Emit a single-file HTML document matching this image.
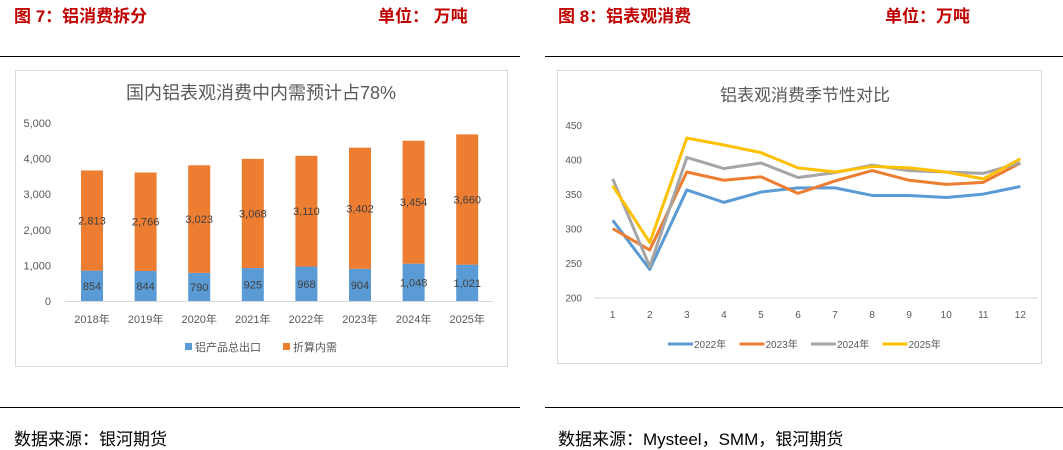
<!DOCTYPE html>
<html><head><meta charset="utf-8">
<style>
body{margin:0;width:1063px;height:448px;background:#fff;position:relative;overflow:hidden;font-family:"Liberation Sans","Noto Sans CJK SC",sans-serif}
.hd{position:absolute;top:2px;font-size:17px;font-weight:bold;color:#c00000}
.rule{position:absolute;height:1px;background:#000}
.src{position:absolute;top:425px;font-size:17px;color:#000}
svg{position:absolute;left:0;top:0}
</style></head><body>
<div class="hd" style="left:14px">图 7：铝消费拆分</div>
<div class="hd" style="left:378px">单位：&nbsp;万吨</div>
<div class="hd" style="left:558px">图 8：铝表观消费</div>
<div class="hd" style="left:885px">单位：万吨</div>
<div class="rule" style="left:0;width:520px;top:56px"></div>
<div class="rule" style="left:545px;width:518px;top:56px"></div>
<div class="rule" style="left:0;width:520px;top:407px"></div>
<div class="rule" style="left:545px;width:518px;top:407px"></div>
<div class="src" style="left:14px">数据来源：银河期货</div>
<div class="src" style="left:558px">数据来源：Mysteel，SMM，银河期货</div>
<svg id="svg" width="1063" height="448"></svg>
<script>
const years=["2018年","2019年","2020年","2021年","2022年","2023年","2024年","2025年"];
const exportVals=[854,844,790,925,968,904,1048,1021];
const domesticVals=[2813,2766,3023,3068,3110,3402,3454,3660];
const leftTicks=[0,1000,2000,3000,4000,5000];
const months=[1,2,3,4,5,6,7,8,9,10,11,12];
const s2022=[312,241,356,338,353,359,359,348,348,345,350,361];
const s2023=[300,269,382,370,375,351,369,384,370,364,367,395];
const s2024=[372,245,403,387,395,374,381,392,384,382,380,395];
const s2025=[362,280,431,421,410,388,382,390,388,382,372,401];
const rightTicks=[200,250,300,350,400,450];
const seriesNames=["2022年","2023年","2024年","2025年"];
const seriesColors=["#5b9bd5","#ed7d31","#a5a5a5","#ffc000"];
const NS="http://www.w3.org/2000/svg";
const svg=document.getElementById('svg');
function mk(t,a,txt){const e=document.createElementNS(NS,t);for(const k in a)e.setAttribute(k,a[k]);if(txt!=null)e.textContent=txt;svg.appendChild(e);return e;}
const fmt=v=>v.toLocaleString('en-US');
// left panel
let e=mk('rect',{x:15.5,y:70.5,width:492,height:296,fill:'#fff',stroke:'#d9d9d9'});

e=mk('text',{x:261,y:99,'text-anchor':'middle','font-size':18,fill:'#595959'},'国内铝表观消费中内需预计占78%');

const ly=v=>301-v*0.0356, lx=i=>92+i*53.6;
leftTicks.forEach(t=>{e=mk('text',{x:51,y:ly(t)+4,'text-anchor':'end','font-size':11,fill:'#595959'},fmt(t));
});
e=mk('line',{x1:65,x2:493,y1:301.5,y2:301.5,stroke:'#d9d9d9'});

years.forEach((y,i)=>{
 const x=lx(i),a=exportVals[i],b=domesticVals[i];
 e=mk('rect',{x:x-11,y:ly(a),width:22,height:ly(0)-ly(a),fill:'#5b9bd5'});
 
 e=mk('rect',{x:x-11,y:ly(a+b),width:22,height:ly(a)-ly(a+b),fill:'#ed7d31'});
 
 e=mk('text',{x:x,y:(ly(a)+ly(0))/2+4,'text-anchor':'middle','font-size':11,fill:'#404040'},fmt(a));
 
 e=mk('text',{x:x,y:(ly(a)+ly(a+b))/2+4,'text-anchor':'middle','font-size':11,fill:'#404040'},fmt(b));
 
 e=mk('text',{x:x,y:323,'text-anchor':'middle','font-size':11,fill:'#595959'},y);
 
});
e=mk('rect',{x:185,y:343,width:7,height:7,fill:'#5b9bd5'});
e=mk('text',{x:195,y:351,'font-size':11,fill:'#595959'},'铝产品总出口');
e=mk('rect',{x:283,y:343,width:7,height:7,fill:'#ed7d31'});
e=mk('text',{x:293,y:351,'font-size':11,fill:'#595959'},'折算内需');
// right panel
e=mk('rect',{x:557.5,y:70.5,width:484,height:293,fill:'#fff',stroke:'#d9d9d9'});

e=mk('text',{x:805,y:101,'text-anchor':'middle','font-size':17,fill:'#595959'},'铝表观消费季节性对比');

const ry=v=>297.7-(v-200)*0.6908, rx=m=>612.7+(m-1)*37.06;
rightTicks.forEach(t=>{e=mk('text',{x:582,y:ry(t)+4,'text-anchor':'end','font-size':10,fill:'#595959'},t);
});
e=mk('line',{x1:594,x2:1038,y1:298,y2:298,stroke:'#d9d9d9'});

months.forEach(m=>{e=mk('text',{x:rx(m),y:318,'text-anchor':'middle','font-size':10,fill:'#595959'},m);
});
[s2022,s2023,s2024,s2025].forEach((s,k)=>{
 e=mk('polyline',{points:s.map((v,i)=>rx(months[i])+','+ry(v)).join(' '),fill:'none',stroke:seriesColors[k],'stroke-width':3,'stroke-linejoin':'round'});
 
 const lx0=668+k*71.5;
 e=mk('line',{x1:lx0,x2:lx0+25,y1:344,y2:344,stroke:seriesColors[k],'stroke-width':3});
 
 e=mk('text',{x:lx0+26,y:348,'font-size':10,fill:'#595959'},seriesNames[k]);
 
});
</script>
</body></html>
